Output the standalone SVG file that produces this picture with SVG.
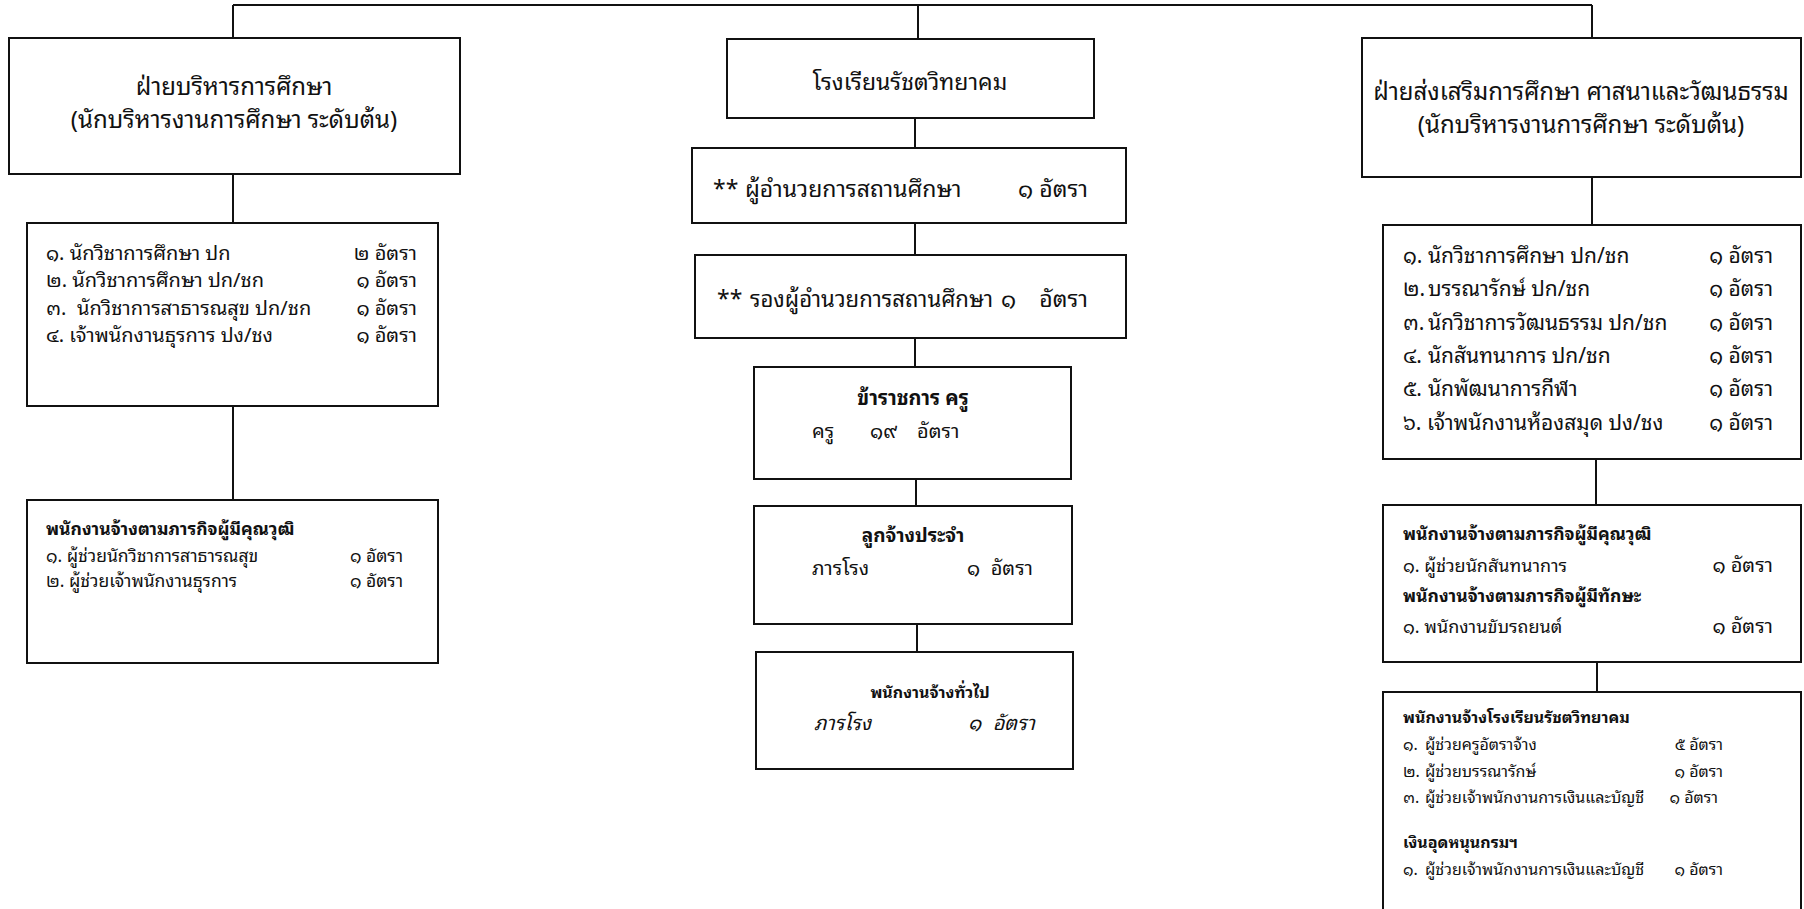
<svg xmlns="http://www.w3.org/2000/svg" width="1804" height="909" viewBox="0 0 1804 909">
<style>
text{font-family:'Noto Sans Thai Looped','Noto Sans Thai','Noto Sans','DejaVu Sans',sans-serif;fill:#111}
.box{fill:#fff;stroke:#111;stroke-width:2}
.ln{fill:none;stroke:#111;stroke-width:2}
.t24{font-size:24px}
.t23{font-size:23px}
.t21{font-size:21px}
.t20{font-size:20px}
.t19{font-size:19px}
.t18{font-size:18px}
.t175{font-size:17.5px}
.t16{font-size:16px}
.b{font-weight:bold}
.i{font-style:italic}
.mid{text-anchor:middle}
.end{text-anchor:end}
</style>
<rect width="1804" height="909" fill="#fff"/>
<g id="connectors">
<path class="ln" d="M233 5H1592M233 5V38M1592 5V38M918 5V39"/>
<path class="ln" d="M233 174V223M233 406V500"/>
<path class="ln" d="M915 118V148M915 223V255M915 338V367M916 479V506M917 624V652"/>
<path class="ln" d="M1592 177V225M1596 459V505M1597 662V692"/>
</g>
<g id="n-admin">
<rect class="box" x="9" y="38" width="451" height="136"/>
<text class="t24 mid" x="234" y="95">ฝ่ายบริหารการศึกษา</text>
<text class="t24 mid" x="234" y="128">(นักบริหารงานการศึกษา ระดับต้น)</text>
</g>
<g id="n-admin-staff">
<rect class="box" x="27" y="223" width="411" height="183"/>
<text class="t20" x="46" y="260">๑. นักวิชาการศึกษา ปก</text>
<text class="t20" x="46" y="287">๒. นักวิชาการศึกษา ปก/ชก</text>
<text class="t20" y="315"><tspan x="46">๓.</tspan><tspan x="77">นักวิชาการสาธารณสุข ปก/ชก</tspan></text>
<text class="t20" x="46" y="342">๔. เจ้าพนักงานธุรการ ปง/ชง</text>
<text class="t20 end" x="417" y="260">๒ อัตรา</text>
<text class="t20 end" x="417" y="287">๑ อัตรา</text>
<text class="t20 end" x="417" y="315">๑ อัตรา</text>
<text class="t20 end" x="417" y="342">๑ อัตรา</text>
</g>
<g id="n-admin-contract">
<rect class="box" x="27" y="500" width="411" height="163"/>
<text class="t175 b" x="46" y="535">พนักงานจ้างตามภารกิจผู้มีคุณวุฒิ</text>
<text class="t175" x="46" y="562">๑. ผู้ช่วยนักวิชาการสาธารณสุข</text>
<text class="t175" x="46" y="587">๒. ผู้ช่วยเจ้าพนักงานธุรการ</text>
<text class="t175 end" x="403" y="562">๑ อัตรา</text>
<text class="t175 end" x="403" y="587">๑ อัตรา</text>
</g>
<g id="n-school">
<rect class="box" x="727" y="39" width="367" height="79"/>
<text class="t23 mid" x="910" y="90">โรงเรียนรัชตวิทยาคม</text>
</g>
<g id="n-director">
<rect class="box" x="692" y="148" width="434" height="75"/>
<text class="t23" y="197"><tspan x="713">**</tspan><tspan x="745">ผู้อำนวยการสถานศึกษา</tspan><tspan x="1018">๑</tspan></text>
<text class="t23 end" x="1088" y="197">อัตรา</text>
</g>
<g id="n-deputy">
<rect class="box" x="695" y="255" width="431" height="83"/>
<text class="t23" y="307"><tspan x="717">**</tspan><tspan x="750" textLength="243" lengthAdjust="spacingAndGlyphs">รองผู้อำนวยการสถานศึกษา</tspan><tspan x="1001">๑</tspan></text>
<text class="t23 end" x="1088" y="307">อัตรา</text>
</g>
<g id="n-teachers">
<rect class="box" x="754" y="367" width="317" height="112"/>
<text class="t20 b mid" x="913" y="405">ข้าราชการ ครู</text>
<text class="t20" y="438"><tspan x="812">ครู</tspan><tspan x="870">๑๙</tspan><tspan x="917">อัตรา</tspan></text>
</g>
<g id="n-permanent">
<rect class="box" x="754" y="506" width="318" height="118"/>
<text class="t19 b mid" x="913" y="542">ลูกจ้างประจำ</text>
<text class="t20" y="575"><tspan x="812">ภารโรง</tspan><tspan x="967">๑</tspan></text>
<text class="t20 end" x="1033" y="575">อัตรา</text>
</g>
<g id="n-general">
<rect class="box" x="756" y="652" width="317" height="117"/>
<text class="t16 b mid" x="930" y="698">พนักงานจ้างทั่วไป</text>
<text class="t20 i" y="730"><tspan x="814">ภารโรง</tspan><tspan x="968">๑</tspan></text>
<text class="t20 i end" x="1035" y="730">อัตรา</text>
</g>
<g id="n-promo">
<rect class="box" x="1362" y="38" width="439" height="139"/>
<text class="t24 mid" x="1581" y="100">ฝ่ายส่งเสริมการศึกษา ศาสนาและวัฒนธรรม</text>
<text class="t24 mid" x="1581" y="133">(นักบริหารงานการศึกษา ระดับต้น)</text>
</g>
<g id="n-promo-staff">
<rect class="box" x="1383" y="225" width="418" height="234"/>
<text class="t21" y="263"><tspan x="1403">๑.</tspan><tspan x="1428">นักวิชาการศึกษา ปก/ชก</tspan></text>
<text class="t21" y="296"><tspan x="1403">๒.</tspan><tspan x="1428">บรรณารักษ์  ปก/ชก</tspan></text>
<text class="t21" y="330"><tspan x="1403">๓.</tspan><tspan x="1428">นักวิชาการวัฒนธรรม ปก/ชก</tspan></text>
<text class="t21" y="363"><tspan x="1403">๔.</tspan><tspan x="1428">นักสันทนาการ ปก/ชก</tspan></text>
<text class="t21" y="396"><tspan x="1403">๕.</tspan><tspan x="1428">นักพัฒนาการกีฬา</tspan></text>
<text class="t21" x="1403" y="430">๖. เจ้าพนักงานห้องสมุด ปง/ชง</text>
<text class="t21 end" x="1773" y="263">๑ อัตรา</text>
<text class="t21 end" x="1773" y="296">๑ อัตรา</text>
<text class="t21 end" x="1773" y="330">๑ อัตรา</text>
<text class="t21 end" x="1773" y="363">๑ อัตรา</text>
<text class="t21 end" x="1773" y="396">๑ อัตรา</text>
<text class="t21 end" x="1773" y="430">๑ อัตรา</text>
</g>
<g id="n-promo-contract">
<rect class="box" x="1383" y="505" width="418" height="157"/>
<text class="t175 b" x="1403" y="540">พนักงานจ้างตามภารกิจผู้มีคุณวุฒิ</text>
<text class="t18" x="1403" y="572">๑. ผู้ช่วยนักสันทนาการ</text>
<text class="t175 b" x="1403" y="602">พนักงานจ้างตามภารกิจผู้มีทักษะ</text>
<text class="t18" x="1403" y="633">๑. พนักงานขับรถยนต์</text>
<text class="t20 end" x="1773" y="572">๑ อัตรา</text>
<text class="t20 end" x="1773" y="633">๑ อัตรา</text>
</g>
<g id="n-school-staff">
<rect class="box" x="1383" y="692" width="418" height="240"/>
<text class="t16 b" x="1403" y="723">พนักงานจ้างโรงเรียนรัชตวิทยาคม</text>
<text class="t16" y="750"><tspan x="1403">๑.</tspan><tspan x="1425">ผู้ช่วยครูอัตราจ้าง</tspan></text>
<text class="t16" y="777"><tspan x="1403">๒.</tspan><tspan x="1425">ผู้ช่วยบรรณารักษ์</tspan></text>
<text class="t16" y="803"><tspan x="1403">๓.</tspan><tspan x="1425">ผู้ช่วยเจ้าพนักงานการเงินและบัญชี</tspan></text>
<text class="t16 b" x="1403" y="848">เงินอุดหนุนกรมฯ</text>
<text class="t16" y="875"><tspan x="1403">๑.</tspan><tspan x="1425">ผู้ช่วยเจ้าพนักงานการเงินและบัญชี</tspan></text>
<text class="t16 end" x="1723" y="750">๕ อัตรา</text>
<text class="t16 end" x="1723" y="777">๑ อัตรา</text>
<text class="t16 end" x="1718" y="803">๑ อัตรา</text>
<text class="t16 end" x="1723" y="875">๑ อัตรา</text>
</g>
</svg>
